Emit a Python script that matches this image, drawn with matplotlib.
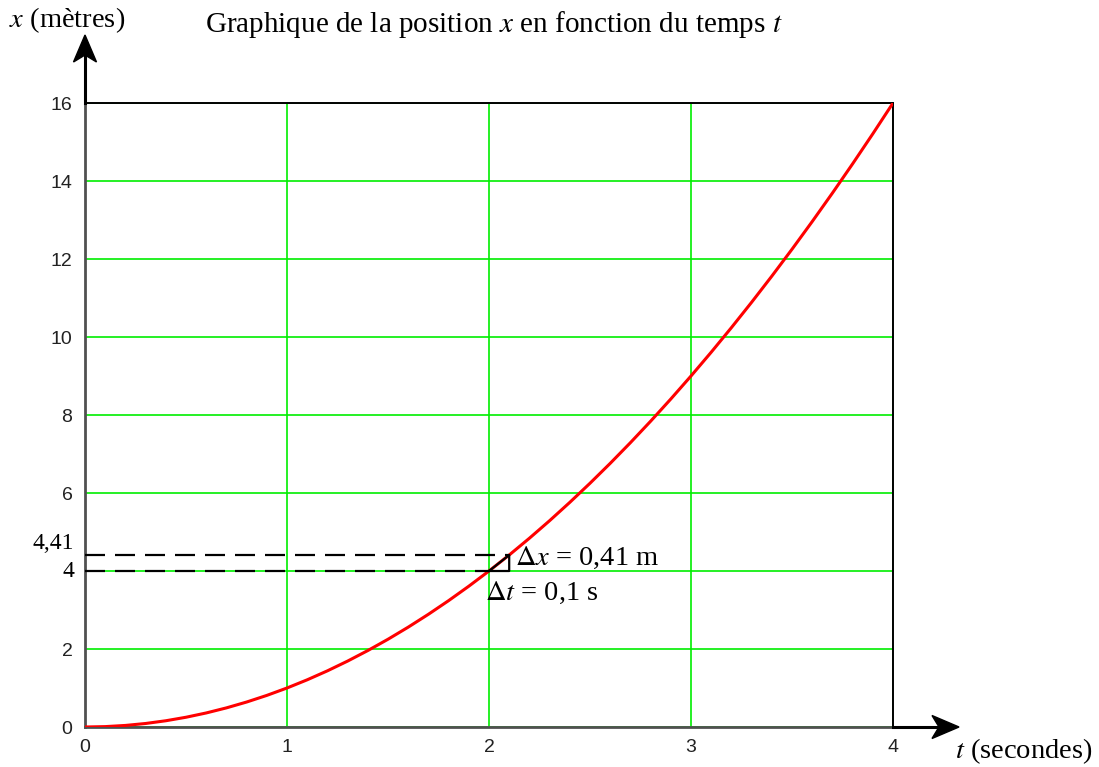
import matplotlib
matplotlib.use("Agg")
import matplotlib.pyplot as plt
from matplotlib.patches import Polygon
from matplotlib.lines import Line2D

plt.rcParams["mathtext.fontset"] = "stix"

# Position x (m) versus time t (s)
t_values = [0.0, 0.1, 0.2, 0.3, 0.4, 0.5, 0.6, 0.7, 0.8, 0.9,
            1.0, 1.1, 1.2, 1.3, 1.4, 1.5, 1.6, 1.7, 1.8, 1.9,
            2.0, 2.1, 2.2, 2.3, 2.4, 2.5, 2.6, 2.7, 2.8, 2.9,
            3.0, 3.1, 3.2, 3.3, 3.4, 3.5, 3.6, 3.7, 3.8, 3.9, 4.0]
x_values = [0.0, 0.01, 0.04, 0.09, 0.16, 0.25, 0.36, 0.49, 0.64, 0.81,
            1.0, 1.21, 1.44, 1.69, 1.96, 2.25, 2.56, 2.89, 3.24, 3.61,
            4.0, 4.41, 4.84, 5.29, 5.76, 6.25, 6.76, 7.29, 7.84, 8.41,
            9.0, 9.61, 10.24, 10.89, 11.56, 12.25, 12.96, 13.69, 14.44, 15.21, 16.0]

x_ticks = [0, 1, 2, 3, 4]
y_ticks = [0, 2, 4, 6, 8, 10, 12, 14, 16]
y_tick_labels = ["0", "2", "", "6", "8", "10", "12", "14", "16"]

# Small interval near t = 2 s
t0, dt = 2.0, 0.1
x0, x1 = 4.0, 4.41

W, H = 1099, 767
fig = plt.figure(figsize=(W / 100, H / 100), dpi=100)
ax = fig.add_axes([85 / W, 40 / H, 808 / W, 624 / H])

ax.plot(t_values, x_values, color="#ff0000", lw=2.2, zorder=3)

ax.set_xlim(0, 4)
ax.set_ylim(0, 16)
ax.set_xticks(x_ticks)
ax.set_yticks(y_ticks)
ax.set_xticklabels([str(v) for v in x_ticks])
ax.set_yticklabels(y_tick_labels)
ax.tick_params(length=0, labelsize=14, pad=9)
for lab in ax.get_xticklabels() + ax.get_yticklabels():
    lab.set_family("Liberation Sans")
    lab.set_color("#222222")
ax.grid(True, color="#00ee00", lw=1.2, zorder=1)

for side in ("left", "bottom"):
    ax.spines[side].set_color("#505050")
    ax.spines[side].set_linewidth(2.0)
for side in ("top", "right"):
    ax.spines[side].set_color("black")
    ax.spines[side].set_linewidth(1.4)

# Construction lines for the interval
dash = dict(color="black", lw=1.6, dashes=(9, 4.5), zorder=4)
ax.plot([0, t0 + dt], [x1, x1], **dash)
ax.plot([0, t0], [x0, x0], **dash)
ax.plot([t0, t0 + dt, t0 + dt, t0], [x0, x0, x1, x0], color="black", lw=1.6, zorder=4)

serif = "Liberation Serif"
ax.text(-0.055, x1 + 0.03, "4,41", ha="right", va="bottom", fontsize=17, family=serif)
ax.text(-0.055, x0 - 0.02, "4", ha="right", va="center", fontsize=17, family=serif)
ax.text(t0 + dt + 0.03, x1 - 0.08, r"$\Delta\it{x}$ = 0,41 m", ha="left", va="center",
        fontsize=20.5, family=serif)
ax.text(t0 - 0.02, x0 - 0.55, r"$\Delta\it{t}$ = 0,1 s", ha="left", va="center",
        fontsize=20.5, family=serif)


# Axis arrows with notched heads, drawn in figure pixels
def fx(px):
    return px / W


def fy(py):
    return (H - py) / H


def arrow(x_start, y_start, x_tip, y_tip, length=27, half=11.5, notch=7):
    dx, dy = x_tip - x_start, y_tip - y_start
    n = (dx ** 2 + dy ** 2) ** 0.5
    ux, uy = dx / n, dy / n
    px, py = -uy, ux
    bx, by = x_tip - ux * length, y_tip - uy * length
    nx, ny = x_tip - ux * (length - notch), y_tip - uy * (length - notch)
    fig.add_artist(Line2D([fx(x_start), fx(nx)], [fy(y_start), fy(ny)], color="black", lw=2.2,
                          transform=fig.transFigure))
    pts = [(x_tip, y_tip), (bx + px * half, by + py * half), (nx, ny), (bx - px * half, by - py * half)]
    fig.add_artist(Polygon([(fx(a), fy(b)) for a, b in pts], closed=True, color="black",
                           transform=fig.transFigure))


arrow(85, 103, 85, 35)
arrow(893, 727, 959, 727)

fig.text(9 / W, (H - 20) / H, r"$\it{x}$ (mètres)", ha="left", va="center", fontsize=20.5, family=serif)
fig.text(955 / W, (H - 751) / H, r"$\it{t}$ (secondes)", ha="left", va="center", fontsize=20.5,
         family=serif)
fig.text(205 / W, (H - 25) / H, r"Graphique de la position $\it{x}$ en fonction du temps $\it{t}$",
         ha="left", va="center", fontsize=21, family=serif)

fig.savefig("out.png", dpi=100, facecolor="white")
